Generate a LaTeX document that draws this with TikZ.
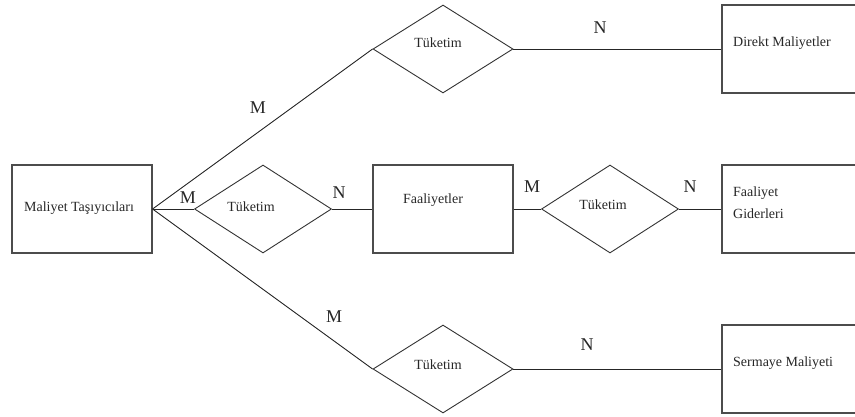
\documentclass[tikz,border=0pt]{standalone}
\usepackage{fontspec}
\setmainfont{Liberation Serif}
\usetikzlibrary{shapes.geometric}
\begin{document}
\begin{tikzpicture}[x=1pt,y=-1pt,
  ent/.style={draw=black!70, line width=1.1pt, rectangle, inner sep=0pt, minimum height=88pt},
  rel/.style={draw=black!80, line width=0.9pt, diamond, inner sep=0pt, minimum width=140pt, minimum height=88pt},
  conn/.style={draw=black!85, line width=0.9pt},
  txt/.style={font=\fontsize{14}{17}\selectfont, inner sep=0pt, text=black!85},
  card/.style={font=\fontsize{18}{20}\selectfont, inner sep=0pt, text=black!85}]
\useasboundingbox (0,0) rectangle (855,417);
% entities
\node[ent, minimum width=140pt] (mt) at (82,209) {};
\node[ent, minimum width=140pt] (dm) at (792,49) {};
\node[ent, minimum width=140pt] (fa) at (443,209) {};
\node[ent, minimum width=140pt] (fg) at (792,209) {};
\node[ent, minimum width=140pt] (sm) at (792,369) {};
% relationships
\node[rel] (r1) at (443,49) {};
\node[rel, minimum width=137pt] (r2) at (263,209) {};
\node[rel, minimum width=137pt] (r3) at (610,209) {};
\node[rel] (r4) at (443,369) {};
% connectors
\draw[conn] (mt.east) -- (r1.west);
\draw[conn] (mt.east) -- (r2.west);
\draw[conn] (mt.east) -- (r4.west);
\draw[conn] (r1.east) -- (dm.west);
\draw[conn] (r2.east) -- (fa.west);
\draw[conn] (fa.east) -- (r3.west);
\draw[conn] (r3.east) -- (fg.west);
\draw[conn] (r4.east) -- (sm.west);
% texts
\node[txt] (t0) at (79,208) {Maliyet Taşıyıcıları};
\node[txt, anchor=west] (t1) at (733,43) {Direkt Maliyetler};
\node[txt] (t2) at (433,200) {Faaliyetler};
\node[txt, anchor=west] (t3) at (733,193) {Faaliyet};
\node[txt, anchor=west] (t4) at (733,214) {Giderleri};
\node[txt, anchor=west] (t5) at (733,363) {Sermaye Maliyeti};
\node[txt] (k1) at (438,43) {Tüketim};
\node[txt] (k2) at (251,207) {Tüketim};
\node[txt] (k3) at (603,205) {Tüketim};
\node[txt] (k4) at (438,365) {Tüketim};
% cardinalities
\node[card] (c1) at (258,108) {M};
\node[card] (c2) at (600,28) {N};
\node[card] (c3) at (188,198) {M};
\node[card] (c4) at (339,193) {N};
\node[card] (c5) at (532,187) {M};
\node[card] (c6) at (690,187) {N};
\node[card] (c7) at (334,317) {M};
\node[card] (c8) at (587,345) {N};
\end{tikzpicture}
\end{document}
